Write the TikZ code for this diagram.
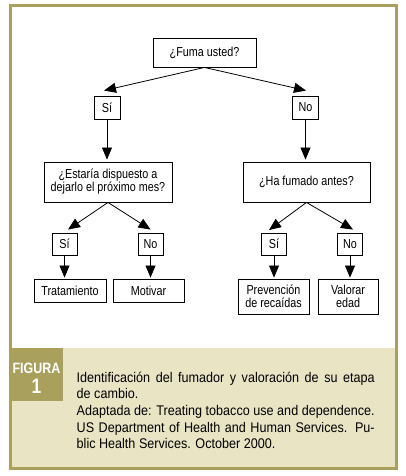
\documentclass[tikz,border=0pt]{standalone}
\usepackage{fontspec}
\setmainfont{Liberation Sans}[FakeStretch = 0.83]
\newfontfamily\captionfont{Liberation Sans}[FakeStretch = 0.9]
\usetikzlibrary{arrows.meta, calc}

\definecolor{figolive}{RGB}{170, 160, 94}
\definecolor{figbeige}{RGB}{233, 228, 196}

\tikzset{
	qbox/.style = {draw, line width = 0.9pt, align = center, inner sep = 0pt, font = \fontsize{13}{13}\selectfont},
	abox/.style = {qbox, minimum width = 25pt, minimum height = 22pt}
}

\begin{document}
\begin{tikzpicture}[x = 1pt, y = -1pt, > = {Triangle[length = 12pt, width = 10pt]}]

	\useasboundingbox (0, 0) rectangle (405, 476);

	% Caption panel and frame

	\fill [figbeige] (10.5, 348) rectangle (396, 468);
	\fill [figolive] (10.5, 348) rectangle (63, 401);
	\draw [figolive, line width = 3pt] (10.5, 5.5) rectangle (396, 468);

	\node [white, font = \fontsize{15}{15}\selectfont\bfseries, inner sep = 0pt, anchor = base] (figlabel) at (36.5, 373) {FIGURA};
	\node [white, font = \fontsize{21}{21}\selectfont\bfseries, inner sep = 0pt, anchor = base] (fignum) at (36.5, 393) {1};

	\node [anchor = base west, inner sep = 0pt, text width = 298pt, align = justify, font = \captionfont\fontsize{14}{16.7}\selectfont] (caption) at (76.5, 382)
		{Identificación del fumador y valoración de su etapa\linebreak de cambio.\par
		Adaptada de: Treating tobacco use and dependence.\linebreak US Department of Health and Human Services. Pu-\linebreak blic Health Services. October 2000.};

	% Decision boxes

	\node [qbox, minimum width = 103pt, minimum height = 29pt] (fuma) at (204.5, 52.5) {¿Fuma usted?};

	\node [abox, minimum width = 26pt, minimum height = 23pt] (si1) at (107, 107.5) {Sí};
	\node [abox, minimum width = 26pt, minimum height = 23pt] (no1) at (305.5, 107.5) {No};

	\node [qbox, minimum width = 128pt, minimum height = 40pt] (dispuesto) at (108, 182) {¿Estaría dispuesto a\\dejarlo el próximo mes?};
	\node [qbox, minimum width = 127pt, minimum height = 40pt] (fumado) at (306.5, 182) {¿Ha fumado antes?};

	\node [abox] (si2) at (64.5, 244) {Sí};
	\node [abox] (no2) at (150.5, 244) {No};
	\node [abox] (si3) at (274, 244) {Sí};
	\node [abox] (no3) at (350, 244) {No};

	\node [qbox, minimum width = 72pt, minimum height = 23pt] (tratamiento) at (70, 290.5) {Tratamiento};
	\node [qbox, minimum width = 71pt, minimum height = 23pt] (motivar) at (148.5, 290.5) {Motivar};
	\node [qbox, minimum width = 71pt, minimum height = 35pt] (prevencion) at (273.5, 296.5) {Prevención\\de recaídas};
	\node [qbox, minimum width = 60pt, minimum height = 35pt] (valorar) at (348, 296.5) {Valorar\\edad};

	% Arrows

	\coordinate (tsi1) at ($(si1.north) + (-3, -5)$);
	\coordinate (tno1) at ($(no1.north) + (0.5, -5)$);
	\coordinate (tsi2) at ($(si2.north) + (3.5, -3)$);
	\coordinate (tno2) at ($(no2.north) + (0, -3)$);
	\coordinate (tsi3) at ($(si3.north) + (-5, -2.5)$);
	\coordinate (tno3) at ($(no3.north) + (3, -3)$);

	\draw [->, line width = 0.8pt] (fuma.south) -- (tsi1);
	\draw [->, line width = 0.8pt] (fuma.south) -- (tno1);
	\draw [->, line width = 0.8pt] (dispuesto.south) -- (tsi2);
	\draw [->, line width = 0.8pt] (dispuesto.south) -- (tno2);
	\draw [->, line width = 0.8pt] (fumado.south) -- (tsi3);
	\draw [->, line width = 0.8pt] (fumado.south) -- (tno3);

	\draw [->, line width = 0.8pt, shorten > = 2pt] (si1.south) -- (si1.south |- dispuesto.north);
	\draw [->, line width = 0.8pt, shorten > = 2pt] (no1.south) -- (no1.south |- fumado.north);
	\draw [->, line width = 0.8pt, shorten > = 1pt] (si2.south) -- (si2.south |- tratamiento.north);
	\draw [->, line width = 0.8pt, shorten > = 1pt] (no2.south) -- (no2.south |- motivar.north);
	\draw [->, line width = 0.8pt, shorten > = 1pt] (si3.south) -- (si3.south |- prevencion.north);
	\draw [->, line width = 0.8pt, shorten > = 1pt] (no3.south) -- (no3.south |- valorar.north);

\end{tikzpicture}
\end{document}
